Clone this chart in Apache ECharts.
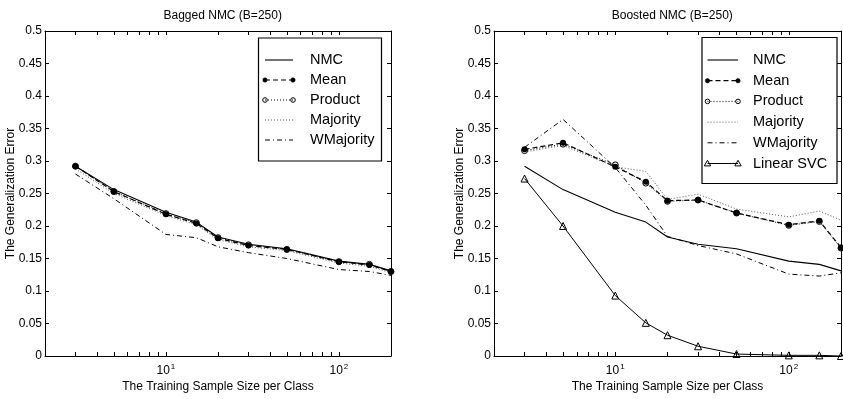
<!DOCTYPE html>
<html>
<head>
<meta charset="utf-8">
<script src="https://cdn.jsdelivr.net/npm/echarts@6/dist/echarts.min.js"></script>
<style>
  html, body { margin: 0; padding: 0; background: #fff; }
  #chart { width: 843px; height: 399px; }
</style>
</head>
<body>
<div id="chart"></div>
<script>
// Training sample size per class (log-scaled x axis)
const sampleSizes = [3, 5, 10, 15, 20, 30, 50, 100, 150, 200];

// Plain NMC (shared by both panels)
const nmc = [0.292, 0.256, 0.221, 0.206, 0.183, 0.172, 0.165, 0.146, 0.141, 0.131];

// Bagged NMC combining rules
const bagMean      = [0.292, 0.253, 0.218, 0.204, 0.181, 0.170, 0.164, 0.145, 0.140, 0.130];
const bagProduct   = [0.292, 0.253, 0.219, 0.205, 0.182, 0.171, 0.164, 0.145, 0.141, 0.130];
const bagMajority  = [0.288, 0.250, 0.216, 0.202, 0.179, 0.168, 0.162, 0.143, 0.138, 0.128];
const bagWMajority = [0.280, 0.242, 0.187, 0.182, 0.168, 0.159, 0.150, 0.133, 0.130, 0.124];

// Boosted NMC combining rules
const boostMean      = [0.318, 0.328, 0.291, 0.268, 0.239, 0.240, 0.220, 0.202, 0.208, 0.167];
const boostProduct   = [0.316, 0.326, 0.294, 0.266, 0.238, 0.240, 0.220, 0.201, 0.207, 0.166];
const boostMajority  = [0.314, 0.324, 0.291, 0.284, 0.241, 0.249, 0.226, 0.214, 0.223, 0.209];
const boostWMajority = [0.321, 0.364, 0.290, 0.232, 0.184, 0.170, 0.157, 0.126, 0.123, 0.128];
const linearSVC      = [0.273, 0.200, 0.093, 0.051, 0.032, 0.015, 0.003, 0.001, 0.001, 0.000];

// Axis ticks
const xDecades = [10, 100];
const xMinorTicks = [3, 4, 5, 6, 7, 8, 9, 10, 20, 30, 40, 50, 60, 70, 80, 90, 100];
const yMin = 0, yMax = 0.5, yStep = 0.05;

const panelTitles = ['Bagged NMC (B=250)', 'Boosted NMC (B=250)'];
const xTitle = 'The Training Sample Size per Class';
const yTitle = 'The Generalization Error';
const bagLegend = ['NMC', 'Mean', 'Product', 'Majority', 'WMajority'];
const boostLegend = ['NMC', 'Mean', 'Product', 'Majority', 'WMajority', 'Linear SVC'];

const FONT = '"Liberation Sans", Arial, Helvetica, sans-serif';
const INK = '#000';
const CLEAR = 'rgba(0,0,0,0)';

const pairs = ys => sampleSizes.map((x, i) => [x, ys[i]]);

function xAxisFor(grid, position, labels) {
  return {
    type: 'log', logBase: 10, gridIndex: grid, position: position,
    min: 2, max: 200,
    axisLine: { show: true, onZero: false, lineStyle: { color: INK, width: 1 } },
    axisTick: { show: true, inside: true, length: 4, customValues: xMinorTicks,
                lineStyle: { color: INK, width: 1 } },
    axisLabel: {
      show: labels, customValues: xDecades, margin: 7,
      formatter: v => '{b|10}{s|' + Math.round(Math.log10(v)) + '}',
      rich: {
        b: { fontSize: 12, fontFamily: FONT, color: INK },
        s: { fontSize: 8, fontFamily: FONT, color: INK, padding: [0, 0, 8, 1] }
      }
    },
    splitLine: { show: false },
    name: labels ? xTitle : '', nameLocation: 'middle', nameGap: 25,
    nameMoveOverlap: false,
    nameTextStyle: { fontSize: 12, fontFamily: FONT, color: INK }
  };
}

function yAxisFor(grid, position, labels) {
  return {
    type: 'value', gridIndex: grid, position: position,
    min: yMin, max: yMax, interval: yStep,
    axisLine: { show: true, onZero: false, lineStyle: { color: INK, width: 1 } },
    axisTick: { show: true, inside: true, length: 4, lineStyle: { color: INK, width: 1 } },
    axisLabel: { show: labels, margin: 3, fontSize: 12, fontFamily: FONT, color: INK },
    splitLine: { show: false },
    name: labels ? yTitle : '', nameLocation: 'middle', nameGap: 28,
    nameMoveOverlap: false,
    nameTextStyle: { fontSize: 12, fontFamily: FONT, color: INK }
  };
}

// Line and marker style for each method
const styles = {
  'NMC':        { dash: null,         width: 1.1, color: INK,    marker: null },
  'Mean':       { dash: [5, 3],       width: 1.2, color: INK,    marker: 'dot' },
  'Product':    { dash: [1, 2],       width: 1,   color: INK,    marker: 'ring' },
  'Majority':   { dash: [1, 2],       width: 1,   color: '#555', marker: null },
  'WMajority':  { dash: [5, 3, 1, 3], width: 1,   color: INK,    marker: null },
  'Linear SVC': { dash: null,         width: 1,   color: INK,    marker: 'tri' }
};

const markerSymbol = { dot: 'circle', ring: 'circle', tri: 'triangle' };
const markerSize = { dot: 6, ring: 6, tri: 7 };

function line(name, values, grid) {
  const st = styles[name];
  const m = st.marker;
  return {
    type: 'line', name: name, data: pairs(values),
    xAxisIndex: grid * 2, yAxisIndex: grid * 2,
    lineStyle: { color: st.color, width: st.width, type: st.dash || 'solid' },
    symbol: m ? markerSymbol[m] : 'none',
    symbolSize: m ? markerSize[m] : 0,
    showSymbol: !!m,
    itemStyle: m === 'dot' ? { color: INK }
             : { color: CLEAR, borderColor: INK, borderWidth: 1 },
    silent: true, animation: false
  };
}

// Boxed legend in the upper right of each panel
function legendBox(names, box, rowTop, rowStep, sampleX0, sampleX1, textX) {
  const els = [{
    type: 'rect', z: 100,
    shape: { x: box[0], y: box[1], width: box[2], height: box[3] },
    style: { fill: '#fff', stroke: INK, lineWidth: 1.2 }
  }];
  names.forEach((name, i) => {
    const st = styles[name];
    const y = rowTop + i * rowStep;
    els.push({
      type: 'line', z: 101,
      shape: { x1: sampleX0, y1: y, x2: sampleX1, y2: y },
      style: { stroke: st.color, lineWidth: st.width, lineDash: st.dash || null }
    });
    [sampleX0, sampleX1].forEach(x => {
      if (st.marker === 'dot') {
        els.push({ type: 'circle', z: 102, shape: { cx: x, cy: y, r: 2.2 },
                   style: { fill: INK, stroke: INK, lineWidth: 0.5 } });
      } else if (st.marker === 'ring') {
        els.push({ type: 'circle', z: 102, shape: { cx: x, cy: y, r: 2.3 },
                   style: { fill: CLEAR, stroke: INK, lineWidth: 1 } });
      } else if (st.marker === 'tri') {
        els.push({ type: 'polygon', z: 102,
                   shape: { points: [[x, y - 3.2], [x - 3.2, y + 2.4], [x + 3.2, y + 2.4]] },
                   style: { fill: CLEAR, stroke: INK, lineWidth: 1 } });
      }
    });
    els.push({
      type: 'text', z: 102,
      style: { text: name, x: textX, y: y, fill: INK, fontSize: 14.5, fontFamily: FONT,
               verticalAlign: 'middle', align: 'left' }
    });
  });
  return els;
}

const chart = echarts.init(document.getElementById('chart'), null, { renderer: 'canvas' });

chart.setOption({
  animation: false,
  backgroundColor: '#fff',
  title: [
    { text: panelTitles[0], left: 217.7, top: 5, textAlign: 'center',
      textStyle: { fontSize: 12, fontWeight: 'normal', fontFamily: FONT, color: INK } },
    { text: panelTitles[1], left: 667.3, top: 5, textAlign: 'center',
      textStyle: { fontSize: 12, fontWeight: 'normal', fontFamily: FONT, color: INK } }
  ],
  grid: [
    { left: 45, top: 31, width: 346, height: 325 },
    { left: 494, top: 31, width: 347, height: 325 }
  ],
  xAxis: [
    xAxisFor(0, 'bottom', true), xAxisFor(0, 'top', false),
    xAxisFor(1, 'bottom', true), xAxisFor(1, 'top', false)
  ],
  yAxis: [
    yAxisFor(0, 'left', true), yAxisFor(0, 'right', false),
    yAxisFor(1, 'left', true), yAxisFor(1, 'right', false)
  ],
  graphic: [].concat(
    legendBox(bagLegend, [258.5, 38, 123, 123], 60, 20, 265, 293, 310),
    legendBox(boostLegend, [702, 37.5, 135, 146], 60, 20.7, 707.5, 738, 753)
  ),
  series: [
    line('NMC', nmc, 0),
    line('Mean', bagMean, 0),
    line('Product', bagProduct, 0),
    line('Majority', bagMajority, 0),
    line('WMajority', bagWMajority, 0),
    line('NMC', nmc, 1),
    line('Mean', boostMean, 1),
    line('Product', boostProduct, 1),
    line('Majority', boostMajority, 1),
    line('WMajority', boostWMajority, 1),
    line('Linear SVC', linearSVC, 1)
  ]
});
</script>
</body>
</html>
